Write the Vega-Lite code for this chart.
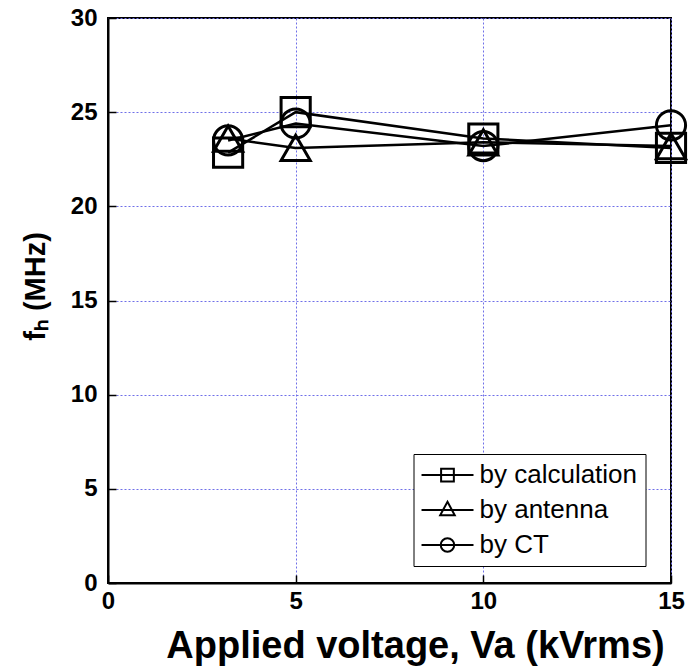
{
  "$schema": "https://vega.github.io/schema/vega-lite/v6.json",
  "width": 563,
  "height": 565,
  "autosize": "none",
  "padding": {"left": 108, "top": 18, "right": 17, "bottom": 88},
  "background": "white",
  "config": {
    "font": "Liberation Sans",
    "view": {"stroke": "black", "strokeWidth": 2}
  },
  "data": {
    "values": [
      {"series": "by calculation", "voltage": 3.2, "fh": 22.85},
      {"series": "by calculation", "voltage": 5, "fh": 25.0},
      {"series": "by calculation", "voltage": 10, "fh": 23.6},
      {"series": "by calculation", "voltage": 15, "fh": 23.1},
      {"series": "by antenna", "voltage": 3.2, "fh": 23.6},
      {"series": "by antenna", "voltage": 5, "fh": 23.1},
      {"series": "by antenna", "voltage": 10, "fh": 23.4},
      {"series": "by antenna", "voltage": 15, "fh": 23.2},
      {"series": "by CT", "voltage": 3.2, "fh": 23.5},
      {"series": "by CT", "voltage": 5, "fh": 24.4},
      {"series": "by CT", "voltage": 10, "fh": 23.2},
      {"series": "by CT", "voltage": 15, "fh": 24.3}
    ]
  },
  "encoding": {
    "x": {
      "field": "voltage",
      "type": "quantitative",
      "scale": {"domain": [0, 15], "nice": false},
      "axis": {
        "title": "Applied voltage, Va (kVrms)",
        "values": [0, 5, 10, 15],
        "labelFont": "Liberation Sans",
        "labelFontWeight": "bold",
        "labelFontSize": 24,
        "labelColor": "black",
        "labelPadding": 14,
        "labelFlush": false,
        "tickSize": -8,
        "tickColor": "black",
        "tickWidth": 1.5,
        "domainColor": "black",
        "domainWidth": 2,
        "grid": true,
        "gridColor": "#6f6fe8",
        "gridDash": [2, 2],
        "gridWidth": 1,
        "titleFont": "Liberation Sans",
        "titleFontWeight": "bold",
        "titleFontSize": 38,
        "titleColor": "black",
        "titlePadding": 14,
        "titleX": 307
      }
    },
    "y": {
      "field": "fh",
      "type": "quantitative",
      "scale": {"domain": [0, 30], "nice": false},
      "axis": {
        "title": "fₕ (MHz)",
        "values": [0, 5, 10, 15, 20, 25, 30],
        "labelFont": "Liberation Sans",
        "labelFontWeight": "bold",
        "labelFontSize": 24,
        "labelColor": "black",
        "labelPadding": 19,
        "tickSize": -8,
        "tickColor": "black",
        "tickWidth": 1.5,
        "domainColor": "black",
        "domainWidth": 2,
        "grid": true,
        "gridColor": "#6f6fe8",
        "gridDash": [2, 2],
        "gridWidth": 1,
        "titleFont": "Liberation Sans",
        "titleFontWeight": "bold",
        "titleFontSize": 29,
        "titleColor": "black",
        "titlePadding": 20,
        "titleY": 268
      }
    }
  },
  "resolve": {"scale": {"shape": "independent"}, "legend": {"shape": "independent"}},
  "layer": [
    {
      "mark": {"type": "line", "strokeWidth": 2.5, "color": "black"},
      "encoding": {"detail": {"field": "series"}}
    },
    {
      "mark": {"type": "point", "filled": false, "color": "black", "strokeWidth": 3, "size": 850, "opacity": 1},
      "encoding": {
        "shape": {
          "field": "series",
          "type": "nominal",
          "scale": {
            "domain": ["by calculation", "by antenna", "by CT"],
            "range": ["square", "triangle-up", "circle"]
          },
          "legend": null
        }
      }
    },
    {
      "mark": {"type": "point", "filled": false, "color": "black", "strokeWidth": 2, "opacity": 0},
      "encoding": {
        "shape": {
          "field": "series",
          "type": "nominal",
          "scale": {
            "domain": ["by calculation", "by antenna", "by CT"],
            "range": [
              "M-1.73,0H5.2M0.88,-0.85H2.58V0.85H0.88Z",
              "M-1.73,0H5.2M1.73,-1.1L2.7,0.7H0.76Z",
              "M-1.73,0H5.2M2.63,0A0.9,0.9 0 1,1 0.83,0A0.9,0.9 0 1,1 2.63,0Z"
            ]
          },
          "legend": {
            "title": null,
            "orient": "none",
            "legendX": 305.5,
            "legendY": 436,
            "padding": 8,
            "strokeColor": "black",
            "fillColor": "white",
            "symbolSize": 225,
            "symbolStrokeColor": "black",
            "symbolFillColor": "transparent",
            "symbolStrokeWidth": 2,
            "symbolOpacity": 1,
            "labelFont": "Liberation Sans",
            "labelFontSize": 26,
            "labelColor": "black",
            "labelOffset": 32,
            "rowPadding": 9
          }
        }
      }
    }
  ]
}
